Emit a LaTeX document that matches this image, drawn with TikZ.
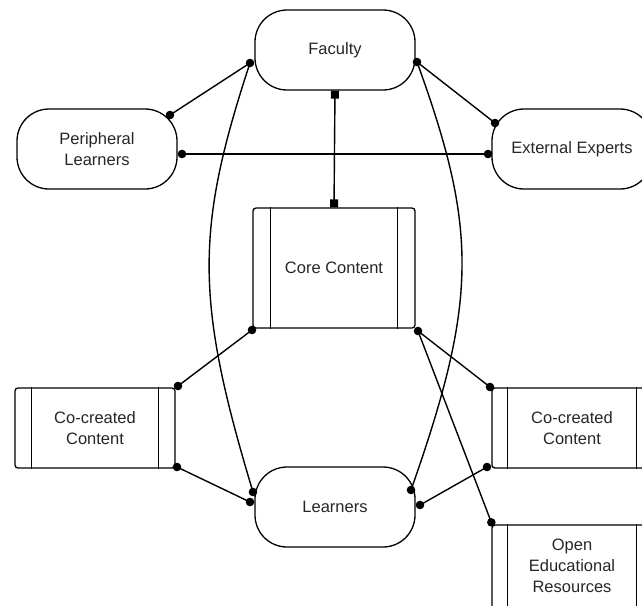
\documentclass[tikz,border=0pt]{standalone}
\usepackage{fontspec}
\setmainfont{Liberation Sans}
\usetikzlibrary{calc,arrows.meta}
\begin{document}
\begin{tikzpicture}[x=1pt,y=-1pt,
  every node/.style={font=\fontsize{16.5}{21}\selectfont, text=black!85, align=center},
  stad/.style={draw, line width=1.3pt, rounded corners=32pt, minimum width=160pt, minimum height=80pt, inner sep=0pt},
  proc/.style={draw, line width=1.3pt, rounded corners=3pt, minimum width=160pt, minimum height=80pt, inner sep=0pt},
  link/.style={line width=1.4pt},
  sqlink/.style={line width=1.4pt, {Square[length=8pt,width=8pt]}-{Square[length=8pt,width=8pt]}}]
\useasboundingbox (0,0) rectangle (642,605);
\clip (0,0) rectangle (642,605);

% actors
\node[stad] (fac) at (335,50)  {Faculty};
\node[stad] (per) at (97,149)  {Peripheral\\Learners};
\node[stad] (ext) at (572,149) {External Experts};
\node[stad] (lrn) at (335,507) {Learners};

% content blocks
\node[proc, minimum width=162pt, minimum height=120pt] (core) at (334,268) {Core Content};
\node[proc] (lco) at (95,428)  {Co-created\\Content};
\node[proc] (rco) at (572,428) {Co-created\\Content};
\node[proc, minimum height=100pt] (oer) at (572,575) {};
\node (oertxt) at (572,566) {Open\\Educational\\Resources};

% inner bars of the process blocks
\foreach \n/\d in {core/18, lco/17, rco/16, oer/16}{
  \draw[line width=1.3pt] ($(\n.north west)+(\d,0)$) -- ($(\n.south west)+(\d,0)$);
  \draw[line width=1.3pt] ($(\n.north east)+(-\d,0)$) -- ($(\n.south east)+(-\d,0)$);
}

% connector end points on the shape borders
\coordinate (fl)    at ($(fac)+(-85,13)$);
\coordinate (fr)    at ($(fac)+(82,12)$);
\coordinate (pr1)   at ($(per)+(73,-34)$);
\coordinate (pr2)   at ($(per)+(85,5)$);
\coordinate (el1)   at ($(ext)+(-77,-26)$);
\coordinate (el2)   at ($(ext)+(-84,5)$);
\coordinate (cbl)   at ($(core)+(-82,62)$);
\coordinate (cbr)   at ($(core)+(84,63)$);
\coordinate (lcr1)  at ($(lco)+(83,-42)$);
\coordinate (lcr2)  at ($(lco)+(82,39)$);
\coordinate (rcl1)  at ($(rco)+(-82,-41)$);
\coordinate (rcl2)  at ($(rco)+(-85,39)$);
\coordinate (oertl) at ($(oer.north west)+(0,-2)$);
\coordinate (lrl1)  at ($(lrn)+(-82,-15)$);
\coordinate (lrl2)  at ($(lrn)+(-85,-5)$);
\coordinate (lrr1)  at ($(lrn)+(76,-17)$);
\coordinate (lrr2)  at ($(lrn)+(85,-2)$);

% straight links
\draw[link] (fl) -- (pr1);
\draw[link] (fr) -- (el1);
\draw[link] (pr2) -- (el2);
\draw[link] (cbl) -- (lcr1);
\draw[link] (lcr2) -- (lrl2);
\draw[link] (cbr) -- (rcl1);
\draw[link] (cbr) -- (oertl);
\draw[link] (rcl2) -- (lrr2);
\draw[sqlink] (fac.south) -- (core.north);

% faculty to learners, curved round the core
\draw[link] (fl) .. controls (195,230) and (195,300) .. (lrl1);
\draw[link] (fr) .. controls (478,230) and (478,300) .. (lrr1);

% end dots
\foreach \p in {fl,fr,pr1,pr2,el1,el2,cbl,cbr,lcr1,lcr2,rcl1,rcl2,oertl,lrl1,lrl2,lrr1,lrr2}
  \fill (\p) circle (4.3pt);
\end{tikzpicture}
\end{document}
